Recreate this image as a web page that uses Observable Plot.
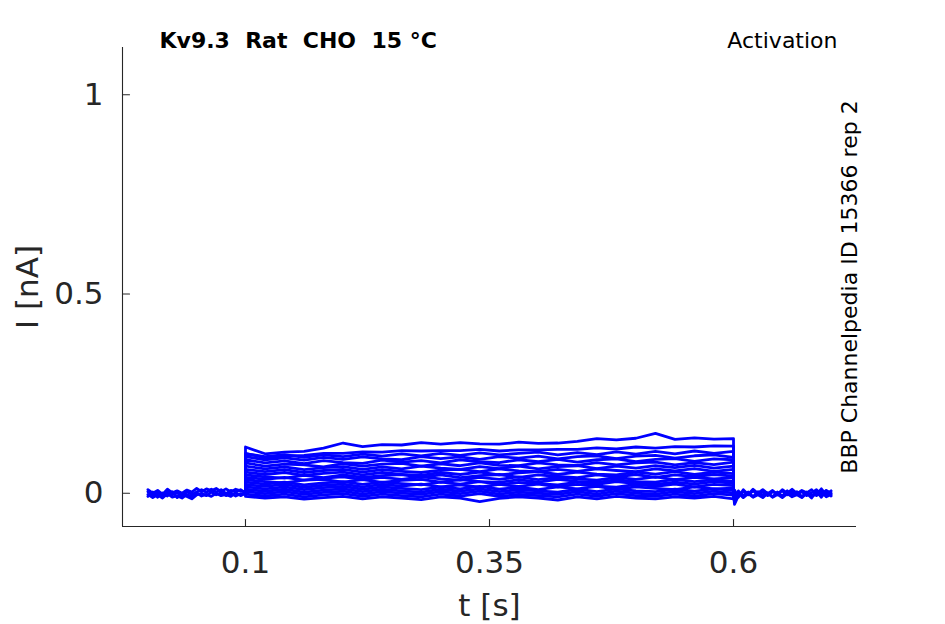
<!DOCTYPE html>
<html><head><meta charset="utf-8">
<script src="https://cdn.jsdelivr.net/npm/d3@7"></script>
<script src="https://cdn.jsdelivr.net/npm/@observablehq/plot@0.6"></script>
<style>
body{margin:0;background:#fff}
svg text{white-space:pre}
</style>
</head><body><div id="chart"></div>
<script>
// ---- axis settings ----
const xDomain = [-0.026, 0.726];
const yDomain = [-0.0835, 1.1186];
const xTicks = [0.1, 0.35, 0.6];
const xTickLabels = ["0.1", "0.35", "0.6"];
const yTicks = [0, 0.5, 1];
const yTickLabels = ["0", "0.5", "1"];
const titleText = "Kv9.3  Rat  CHO  15 °C";
const protocolText = "Activation";
const sideText = "BBP Channelpedia ID 15366 rep 2";
const xLabel = "t [s]";
const yLabel = "I [nA]";

// ---- baseline before the step (t in s, I in nA) ----
const preT = [0, 0.005, 0.01, 0.015, 0.02, 0.025, 0.03, 0.035, 0.04, 0.045, 0.05, 0.055, 0.06, 0.065, 0.07, 0.075, 0.08, 0.085, 0.09, 0.095, 0.1];
const pre1 = [0.004, -0.006, 0.003, -0.007, 0.006, -0.004, 0.002, -0.008, 0.004, -0.003, 0.003, 0.009, 0.002, 0.01, 0.003, 0.009, -0.001, 0.007, 0.003, 0.009, 0.001];
const pre2 = [-0.008, 0.003, -0.01, 0.001, -0.007, 0.004, -0.011, -0.003, -0.008, -0.014, -0.004, 0.0, -0.006, 0.003, -0.004, 0.001, -0.006, 0.0, -0.007, -0.001, -0.002];
const pre3 = [0.009, 0.0, 0.007, -0.003, 0.01, 0.001, 0.006, 0.0, 0.008, 0.003, 0.012, 0.004, 0.011, 0.006, 0.012, 0.004, 0.011, 0.003, 0.01, 0.006, 0.003];
const pre4 = [-0.003, -0.011, -0.004, -0.012, -0.001, -0.01, -0.006, -0.012, -0.003, -0.009, 0.001, -0.007, -0.003, -0.008, 0.0, -0.006, -0.003, -0.008, 0.001, -0.006, 0.0];

// ---- baseline after the step ----
const postT = [0.6, 0.601, 0.605, 0.61, 0.615, 0.62, 0.625, 0.63, 0.635, 0.64, 0.645, 0.65, 0.655, 0.66, 0.665, 0.67, 0.675, 0.68, 0.685, 0.69, 0.695, 0.7];
const post1 = [0.0, -0.028, -0.006, 0.004, -0.004, 0.006, -0.003, 0.003, -0.006, 0.004, -0.001, 0.006, -0.004, 0.003, -0.003, 0.004, -0.006, 0.001, 0.009, -0.003, 0.007, 0.0];
const post2 = [0.001, -0.014, 0.006, -0.007, 0.003, -0.009, 0.004, -0.006, 0.001, -0.009, 0.003, -0.007, 0.006, -0.004, 0.004, -0.009, 0.003, -0.006, -0.003, 0.011, -0.004, 0.006];
const post3 = [0.0, 0.008, -0.01, 0.009, -0.003, 0.01, 0.0, 0.009, -0.001, 0.007, -0.004, 0.009, 0.0, 0.01, -0.001, 0.007, 0.001, 0.009, -0.006, 0.004, -0.009, -0.003];
const post4 = [-0.001, -0.022, 0.0, -0.011, -0.001, -0.01, -0.004, -0.011, 0.0, -0.01, -0.003, -0.011, -0.001, -0.009, -0.004, -0.011, 0.0, -0.012, 0.004, -0.01, 0.006, -0.007];

// ---- sweeps during the voltage step ----
const stepT = [0.1, 0.1, 0.12, 0.14, 0.16, 0.18, 0.2, 0.22, 0.24, 0.26, 0.28, 0.3, 0.32, 0.34, 0.36, 0.38, 0.4, 0.42, 0.44, 0.46, 0.48, 0.5, 0.52, 0.54, 0.56, 0.58, 0.6, 0.6];
const sweep01 = [0.002, 0.116, 0.099, 0.103, 0.105, 0.113, 0.126, 0.117, 0.122, 0.121, 0.127, 0.123, 0.127, 0.124, 0.123, 0.128, 0.125, 0.126, 0.13, 0.137, 0.134, 0.138, 0.15, 0.135, 0.139, 0.136, 0.137, 0.001];
const sweep02 = [0.001, 0.1, 0.089, 0.094, 0.095, 0.1, 0.1, 0.104, 0.103, 0.107, 0.106, 0.107, 0.107, 0.11, 0.106, 0.109, 0.109, 0.11, 0.11, 0.114, 0.111, 0.116, 0.113, 0.117, 0.116, 0.119, 0.118, 0.0];
const sweep03 = [0.0, 0.099, 0.092, 0.097, 0.09, 0.096, 0.092, 0.098, 0.093, 0.099, 0.094, 0.1, 0.095, 0.101, 0.096, 0.1, 0.103, 0.096, 0.102, 0.097, 0.104, 0.098, 0.105, 0.099, 0.106, 0.1, 0.105, 0.001];
const sweep04 = [0.0, 0.092, 0.084, 0.089, 0.083, 0.09, 0.085, 0.091, 0.086, 0.084, 0.092, 0.087, 0.091, 0.085, 0.092, 0.088, 0.093, 0.086, 0.092, 0.094, 0.087, 0.093, 0.095, 0.088, 0.094, 0.096, 0.09, -0.001];
const sweep05 = [0.001, 0.084, 0.076, 0.081, 0.074, 0.082, 0.077, 0.075, 0.083, 0.078, 0.082, 0.076, 0.084, 0.079, 0.077, 0.084, 0.079, 0.085, 0.078, 0.084, 0.086, 0.079, 0.085, 0.087, 0.08, 0.086, 0.084, 0.0];
const sweep06 = [-0.001, 0.076, 0.068, 0.073, 0.071, 0.066, 0.074, 0.068, 0.073, 0.075, 0.068, 0.074, 0.069, 0.076, 0.07, 0.069, 0.076, 0.071, 0.07, 0.077, 0.071, 0.076, 0.078, 0.071, 0.077, 0.072, 0.078, 0.001];
const sweep07 = [0.002, 0.068, 0.061, 0.066, 0.059, 0.064, 0.067, 0.06, 0.066, 0.061, 0.068, 0.063, 0.06, 0.067, 0.062, 0.068, 0.061, 0.067, 0.069, 0.062, 0.068, 0.063, 0.069, 0.064, 0.07, 0.063, 0.068, -0.001];
const sweep08 = [0.0, 0.06, 0.054, 0.059, 0.052, 0.057, 0.06, 0.053, 0.059, 0.055, 0.052, 0.058, 0.06, 0.054, 0.061, 0.056, 0.054, 0.06, 0.055, 0.061, 0.057, 0.054, 0.061, 0.056, 0.062, 0.055, 0.06, 0.0];
const sweep09 = [-0.001, 0.053, 0.047, 0.052, 0.045, 0.05, 0.053, 0.046, 0.052, 0.047, 0.045, 0.052, 0.047, 0.053, 0.046, 0.051, 0.054, 0.047, 0.053, 0.048, 0.046, 0.053, 0.048, 0.054, 0.047, 0.053, 0.049, 0.001];
const sweep10 = [0.001, 0.046, 0.041, 0.038, 0.045, 0.039, 0.046, 0.04, 0.044, 0.047, 0.04, 0.046, 0.039, 0.044, 0.047, 0.04, 0.046, 0.042, 0.039, 0.046, 0.041, 0.047, 0.04, 0.046, 0.042, 0.047, 0.043, 0.0];
const sweep11 = [0.0, 0.04, 0.035, 0.04, 0.033, 0.038, 0.041, 0.034, 0.04, 0.035, 0.041, 0.036, 0.033, 0.04, 0.035, 0.041, 0.034, 0.04, 0.036, 0.033, 0.04, 0.035, 0.041, 0.034, 0.04, 0.036, 0.039, -0.001];
const sweep12 = [-0.002, 0.034, 0.029, 0.026, 0.033, 0.035, 0.028, 0.034, 0.027, 0.032, 0.035, 0.028, 0.034, 0.029, 0.027, 0.034, 0.028, 0.035, 0.03, 0.027, 0.034, 0.029, 0.028, 0.035, 0.029, 0.034, 0.03, 0.001];
const sweep13 = [0.001, 0.028, 0.023, 0.028, 0.021, 0.026, 0.029, 0.022, 0.028, 0.024, 0.021, 0.028, 0.023, 0.029, 0.022, 0.027, 0.024, 0.021, 0.028, 0.022, 0.029, 0.024, 0.022, 0.028, 0.023, 0.029, 0.025, 0.0];
const sweep14 = [0.0, 0.022, 0.017, 0.022, 0.015, 0.02, 0.023, 0.016, 0.022, 0.018, 0.023, 0.016, 0.021, 0.015, 0.022, 0.017, 0.023, 0.016, 0.022, 0.018, 0.015, 0.022, 0.017, 0.023, 0.016, 0.022, 0.019, 0.002];
const sweep15 = [-0.001, 0.016, 0.011, 0.016, 0.009, 0.014, 0.017, 0.01, 0.016, 0.012, 0.009, 0.016, 0.011, 0.017, 0.01, 0.015, 0.009, 0.016, 0.011, 0.017, 0.01, 0.016, 0.012, 0.009, 0.016, 0.011, 0.013, -0.002];
const sweep16 = [0.002, 0.01, 0.005, 0.01, 0.003, 0.008, 0.011, 0.004, 0.01, 0.006, 0.003, 0.01, 0.005, 0.011, 0.004, 0.009, 0.006, 0.003, 0.01, 0.004, 0.011, 0.006, 0.004, 0.01, 0.005, 0.011, 0.007, 0.0];
const sweep17 = [0.0, 0.004, -0.001, 0.004, -0.003, 0.002, 0.005, -0.002, 0.004, 0.0, -0.003, 0.004, -0.001, 0.005, -0.002, 0.003, 0.0, -0.003, 0.004, -0.002, 0.005, 0.0, -0.002, 0.004, -0.001, 0.005, 0.001, 0.001];
const sweep18 = [-0.001, -0.002, -0.007, -0.002, -0.009, -0.004, -0.001, -0.008, -0.002, -0.006, -0.009, -0.002, -0.007, -0.001, -0.008, -0.003, -0.006, -0.009, -0.002, -0.008, -0.001, -0.006, -0.008, -0.002, -0.007, -0.001, -0.005, 0.0];
const sweep19 = [0.001, -0.008, -0.012, -0.009, -0.015, -0.011, -0.008, -0.014, -0.009, -0.012, -0.016, -0.009, -0.012, -0.021, -0.013, -0.009, -0.012, -0.017, -0.009, -0.014, -0.008, -0.012, -0.014, -0.009, -0.012, -0.008, -0.014, -0.001];

// ---- build a long table ----
const rows = [];
function addTrace(id, ts, vs) { ts.forEach((t, i) => rows.push({id, t, I: vs[i]})); }
[pre1, pre2, pre3, pre4].forEach((v, k) => addTrace("pre" + k, preT, v));
[post1, post2, post3, post4].forEach((v, k) => addTrace("post" + k, postT, v));
[sweep01, sweep02, sweep03, sweep04, sweep05, sweep06, sweep07, sweep08, sweep09, sweep10,
 sweep11, sweep12, sweep13, sweep14, sweep15, sweep16, sweep17, sweep18, sweep19]
  .forEach((v, k) => addTrace("sweep" + k, stepT, v));

const ink = "#262626";
const tickShape = {draw(context, l) { context.moveTo(0, 0); context.lineTo(0, -l); }};

const chart = Plot.plot({
  width: 945, height: 624,
  marginLeft: 122, marginRight: 89, marginTop: 47, marginBottom: 98,
  style: {fontFamily: "DejaVu Sans", color: ink, background: "#fff", overflow: "visible"},
  x: {domain: xDomain},
  y: {domain: yDomain},
  marks: [
    Plot.line(rows, {x: "t", y: "I", z: "id", stroke: "#0000ff", strokeWidth: 2.8, strokeLinejoin: "round"}),
    Plot.ruleX([xDomain[0]], {stroke: ink, strokeWidth: 1.1}),
    Plot.ruleY([yDomain[0]], {stroke: ink, strokeWidth: 1.1}),
    Plot.vector(xTicks, {x: d => d, y: () => yDomain[0], length: 7, rotate: 0, anchor: "start", shape: tickShape, stroke: ink, strokeWidth: 1.1}),
    Plot.vector(yTicks, {x: () => xDomain[0], y: d => d, length: 7, rotate: 90, anchor: "start", shape: tickShape, stroke: ink, strokeWidth: 1.1}),
    Plot.axisX({ticks: xTicks, tickFormat: d => xTickLabels[xTicks.indexOf(d)], tickSize: 0, tickPadding: 24, fontSize: 31, label: null}),
    Plot.axisY({ticks: yTicks, tickFormat: d => yTickLabels[yTicks.indexOf(d)], tickSize: 0, tickPadding: 19, fontSize: 31, label: null}),
    Plot.text([xLabel], {text: d => d, frameAnchor: "bottom", lineAnchor: "bottom", dy: 89, fontSize: 31, fill: ink}),
    Plot.text([yLabel], {text: d => d, frameAnchor: "left", rotate: -90, lineAnchor: "bottom", textAnchor: "middle", dx: -85, fontSize: 31, fill: ink}),
    Plot.text([titleText], {text: d => d, frameAnchor: "top-left", textAnchor: "start", lineAnchor: "bottom", dx: 37, fontSize: 22, fontWeight: "bold", fill: "#000"}),
    Plot.text([protocolText], {text: d => d, frameAnchor: "top-right", textAnchor: "end", lineAnchor: "bottom", dx: -19, fontSize: 22, fill: "#000"}),
    Plot.text([sideText], {text: d => d, frameAnchor: "right", rotate: -90, textAnchor: "middle", lineAnchor: "bottom", fontSize: 22, fill: "#000"})
  ]
});
document.getElementById("chart").appendChild(chart);
</script>
</body></html>
